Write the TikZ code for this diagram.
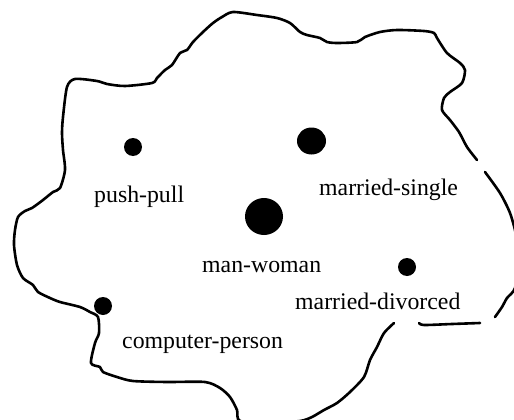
\documentclass[tikz,border=0pt]{standalone}
\usepackage{fontspec}
\setmainfont{Liberation Serif}
\usetikzlibrary{shapes.geometric}
\begin{document}
\begin{tikzpicture}[x=1pt,y=-1pt,
  outline/.style={line width=2.6pt, line join=round, line cap=round},
  dot/.style={fill=black, draw=none, ellipse, inner sep=0pt},
  lbl/.style={anchor=base west, inner sep=0pt, font=\fontsize{23.8}{28}\selectfont}]
\useasboundingbox (0,0) rectangle (514,420);
\clip (0,0) rectangle (514,420);
% outline (hand drawn, with gaps)
\draw[outline] plot[smooth, tension=0.45] coordinates {
(394,323) (384,333) (377,347) (370,360) (364,377) (350,392) (337,403) (324,410) (312,417) (300,421)
(270,423) (240,421) (237,410) (230,397) (220,388) (205,382) (167,382) (133,381) (117,377) (103,372)
(100,367) (91,363) (95,343) (99,333) (98,317) (90,312) (80,307) (60,302) (50,298) (38,292) (33,285)
(23,278) (17,265) (14,245) (15,230) (18,217) (25,211) (32,208) (43,200) (53,192) (60,188) (65,170)
(63,150) (62,133) (63,117) (67,87) (75,79) (97,81) (107,84) (125,86) (152,83) (157,78) (165,70)
(172,65) (180,53) (187,50) (193,42) (203,32) (213,23) (222,17) (233,12) (257,15) (277,18) (290,23)
(300,32) (307,35) (320,38) (327,42) (337,43) (357,42) (365,37) (380,32) (397,30) (424,31) (434,33)
(437,38) (447,53) (460,63) (465,70) (462,83) (450,92) (444,98) (442,110) (450,120) (459,132)
(467,147) (477,160)};
\draw[outline] plot[smooth, tension=0.45] coordinates {
(485,172) (500,193) (510,213) (516,235) (518,260) (515,288) (507,298) (502,307) (495,317)};
\draw[outline] plot[smooth, tension=0.45] coordinates {
(480,323) (452,324) (424,325) (419,323)};
% dots
\node[dot, minimum width=18pt, minimum height=18pt] (pp) at (133,147) {};
\node[dot, minimum width=29pt, minimum height=27pt] (ms) at (311.5,141) {};
\node[dot, minimum width=38pt, minimum height=37pt] (mw) at (264,216.5) {};
\node[dot, minimum width=18pt, minimum height=18pt] (md) at (407,267) {};
\node[dot, minimum width=18pt, minimum height=18pt] (cp) at (103,306) {};
% labels
\node[lbl] (lpp) at (94,202) {push-pull};
\node[lbl] (lms) at (319,195) {married-single};
\node[lbl] (lmw) at (202,272) {man-woman};
\node[lbl] (lmd) at (295,309) {married-divorced};
\node[lbl] (lcp) at (122,348) {computer-person};
\end{tikzpicture}
\end{document}
